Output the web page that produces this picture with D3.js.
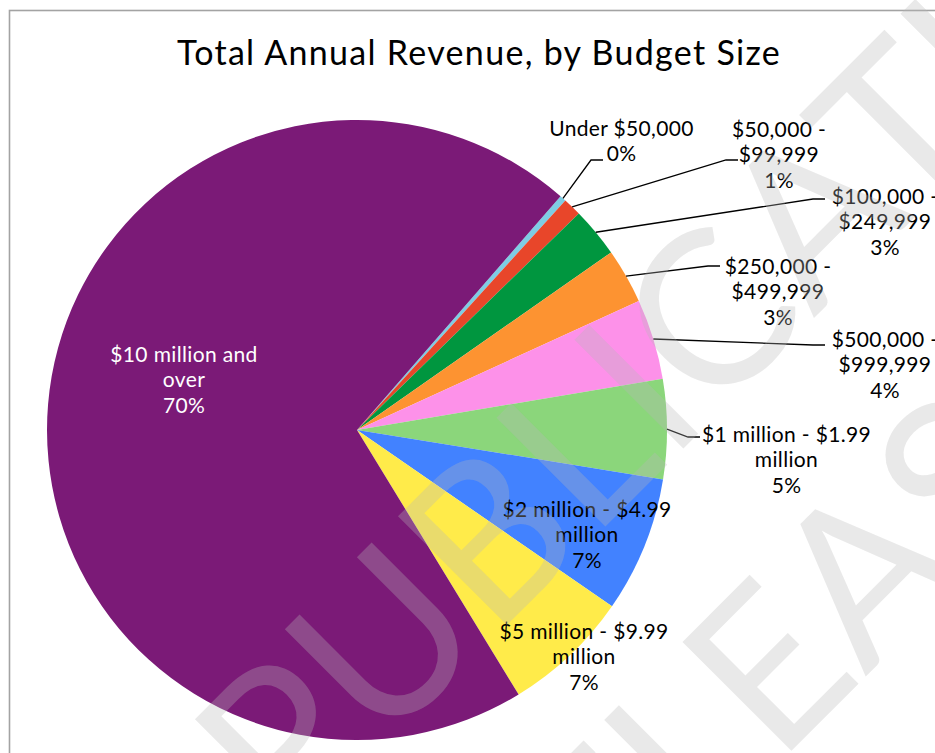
<!DOCTYPE html>
<html>
<head>
<meta charset="utf-8">
<script src="https://cdn.jsdelivr.net/npm/d3@7"></script>
<style>
  html, body { margin: 0; padding: 0; background: #fff; }
  svg { display: block; }
</style>
</head>
<body>
<svg id="chart" width="935" height="753"></svg>
<script>
// ---- data ----
const chartTitle = "Total Annual Revenue, by Budget Size";
const categories = [
  "Under $50,000",
  "$50,000 - $99,999",
  "$100,000 - $249,999",
  "$250,000 - $499,999",
  "$500,000 - $999,999",
  "$1 million - $1.99 million",
  "$2 million - $4.99 million",
  "$5 million - $9.99 million",
  "$10 million and over"
];
// share of total annual revenue, percent
const shares = [0.33, 0.96, 2.6, 2.87, 4.19, 5.19, 7.08, 6.64, 70.1];
const sliceColors = ["#7ecde4", "#e8462a", "#00963f", "#fd9331", "#fd91e9", "#8bd67b", "#4282ff", "#ffeb4a", "#7b1a77"];
const watermarkLines = ["PUBLICATION", "RELEASE"];

// ---- layout ----
const W = 935, H = 753;
const cx = 357, cy = 430, radius = 310;
const startDeg = 41.04;
const fontFamily = "Lato, 'Noto Sans', sans-serif";
const labelSize = 21, lineGap = 25.7, wrapWidth = 174;

// label block: x = centre of text, y = centre of first line, lead = where the leader meets the label
const labelLayout = [
  { x: 621.5, y: 127, lead: [603, 160] },
  { x: 779,   y: 128, lead: [738, 160] },
  { x: 885,   y: 195, lead: [825, 199] },
  { x: 778,   y: 265, lead: [720, 266] },
  { x: 885,   y: 338, lead: [825, 345] },
  { x: 786.5, y: 433, lead: [700, 437] },
  { x: 587,   y: 508 },
  { x: 584,   y: 630 },
  { x: 184,   y: 353, color: "#ffffff" }
];

const svg = d3.select("#chart");

// chart frame
svg.append("rect")
  .attr("x", 9.5).attr("y", 10.5)
  .attr("width", W + 100).attr("height", H + 100)
  .attr("fill", "#fff")
  .attr("stroke", "#a3a3a3")
  .attr("stroke-width", 1.6);

// title
svg.append("text")
  .attr("x", 479).attr("y", 64.5)
  .attr("text-anchor", "middle")
  .attr("font-family", fontFamily)
  .attr("font-size", 34)
  .attr("letter-spacing", 1.3)
  .attr("fill", "#000")
  .text(chartTitle);

const rows = categories.map((c, i) => ({ name: c, value: shares[i], color: sliceColors[i], i }));
const total = d3.sum(shares);
const pct = d3.format(".0%");

const start = startDeg * Math.PI / 180;
const pie = d3.pie().sort(null).value(d => d.value)
  .startAngle(start).endAngle(start + 2 * Math.PI);
const arcs = pie(rows);

const arc = d3.arc().innerRadius(0).outerRadius(radius);
const rim = d3.arc().innerRadius(radius).outerRadius(radius);

const g = svg.append("g").attr("transform", `translate(${cx},${cy})`);

g.selectAll("path.slice")
  .data(arcs)
  .join("path")
  .attr("class", "slice")
  .attr("d", arc)
  .attr("fill", d => d.data.color);

// leader lines for the labels placed outside the pie
const leaders = svg.append("g")
  .attr("fill", "none")
  .attr("stroke", "#000")
  .attr("stroke-width", 1.3);

arcs.forEach(d => {
  const L = labelLayout[d.data.i];
  if (!L.lead) return;
  const p = rim.centroid(d);
  const pts = [
    [cx + p[0], cy + p[1]],
    [L.lead[0] - 12, L.lead[1]],
    [L.lead[0], L.lead[1]]
  ];
  leaders.append("path").attr("d", d3.line()(pts));
});

// word wrap to the label box width
const measure = svg.append("text")
  .attr("font-family", fontFamily)
  .attr("font-size", labelSize)
  .attr("letter-spacing", 0.35)
  .attr("visibility", "hidden");
function wrap(str) {
  const words = str.split(" ");
  const lines = [];
  let cur = "";
  words.forEach(w => {
    const test = cur ? cur + " " + w : w;
    measure.text(test);
    if (cur && measure.node().getComputedTextLength() > wrapWidth) {
      lines.push(cur);
      cur = w;
    } else {
      cur = test;
    }
  });
  if (cur) lines.push(cur);
  return lines;
}

const labels = svg.append("g")
  .attr("font-family", fontFamily)
  .attr("font-size", labelSize)
  .attr("letter-spacing", 0.35)
  .attr("text-anchor", "middle");

arcs.forEach(d => {
  const L = labelLayout[d.data.i];
  const lines = wrap(d.data.name).concat([pct(d.data.value / total)]);
  const t = labels.append("text")
    .attr("fill", L.color || "#000");
  lines.forEach((ln, k) => {
    t.append("tspan")
      .attr("x", L.x)
      .attr("y", L.y + k * lineGap)
      .attr("dominant-baseline", "central")
      .text(ln);
  });
});
measure.remove();

// watermark across the chart
const wm = svg.append("g")
  .attr("transform", "translate(290,842) rotate(-45)")
  .attr("font-family", fontFamily)
  .attr("font-weight", 400)
  .attr("font-size", 215)
  .attr("fill", "rgb(184,184,184)")
  .attr("fill-opacity", 0.31);
watermarkLines.forEach((ln, k) => {
  wm.append("text").attr("x", k * 30).attr("y", k * 290).text(ln);
});
</script>
</body>
</html>
